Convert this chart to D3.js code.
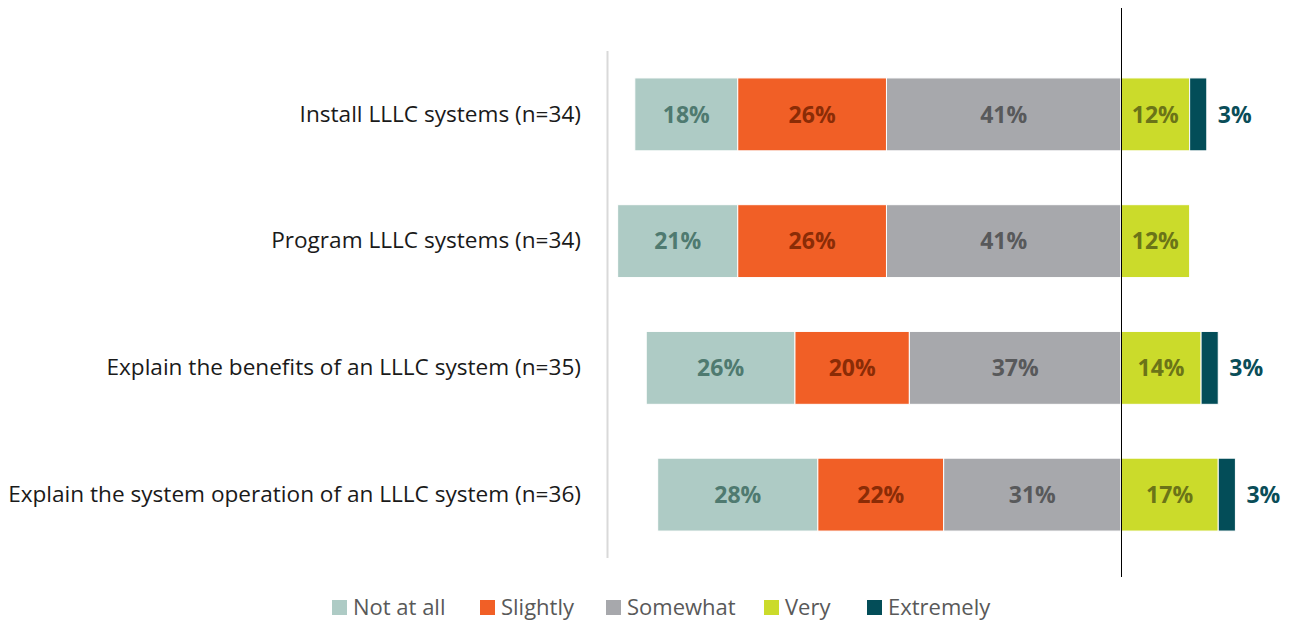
<!DOCTYPE html>
<html>
<head>
<meta charset="utf-8">
<script src="https://cdn.jsdelivr.net/npm/d3@7"></script>
<style>
  html, body { margin: 0; padding: 0; background: #fff; }
  svg { display: block; }
  text { font-family: "Open Sans", "Noto Sans", sans-serif; }
</style>
</head>
<body>
<svg id="chart" width="1296" height="623"></svg>
<script>
// Survey items and response shares (%)
const categories = [
  "Install LLLC systems (n=34)",
  "Program LLLC systems (n=34)",
  "Explain the benefits of an LLLC system (n=35)",
  "Explain the system operation of an LLLC system (n=36)"
];
const responseLevels = ["Not at all", "Slightly", "Somewhat", "Very", "Extremely"];
const notAtAll  = [18, 21, 26, 28];
const slightly  = [26, 26, 20, 22];
const somewhat  = [41, 41, 37, 31];
const very      = [12, 12, 14, 17];
const extremely = [3, 0, 3, 3];

const fillColors  = ["#aecbc5", "#f15f26", "#a7a8ac", "#cbdb2b", "#034d58"];
const labelColors = ["#4f7a70", "#8a2c06", "#58595b", "#6b7418", "#0a4d58"];

const svg = d3.select("#chart");

const zeroX = 1121;
const pxPerPct = 5.72;
const x = d3.scaleLinear().domain([-100, 30]).range([zeroX - 100 * pxPerPct, zeroX + 30 * pxPerPct]);
const y = d3.scaleBand().domain(categories).range([51, 558]).paddingInner(0.425).paddingOuter(0.2125);

// Build stacked segments: negative side (not at all, slightly, somewhat) ends at 0,
// positive side (very, extremely) starts at 0.
const series = [notAtAll, slightly, somewhat, very, extremely];
const segments = [];
categories.forEach((cat, i) => {
  const neg = [series[0][i], series[1][i], series[2][i]];
  let start = -d3.sum(neg);
  neg.forEach((v, k) => {
    segments.push({cat, level: k, x0: start, x1: start + v, value: v});
    start += v;
  });
  let pos = 0;
  [series[3][i], series[4][i]].forEach((v, j) => {
    segments.push({cat, level: 3 + j, x0: pos, x1: pos + v, value: v});
    pos += v;
  });
});

// Left axis rule
svg.append("line")
  .attr("x1", 607.5).attr("x2", 607.5)
  .attr("y1", y.range()[0]).attr("y2", y.range()[1])
  .attr("stroke", "#d9d9d9").attr("stroke-width", 2);

// Bars
svg.append("g").selectAll("rect")
  .data(segments.filter(d => d.value > 0))
  .join("rect")
  .attr("x", d => x(d.x0))
  .attr("width", d => x(d.x1) - x(d.x0))
  .attr("y", d => y(d.cat))
  .attr("height", y.bandwidth())
  .attr("fill", d => fillColors[d.level])
  .attr("stroke", "#fff")
  .attr("stroke-width", 1);

// Value labels
svg.append("g").selectAll("text")
  .data(segments.filter(d => d.value > 0))
  .join("text")
  .attr("x", d => d.level === 4 ? x(d.x1) + 11 : (x(d.x0) + x(d.x1)) / 2)
  .attr("y", d => y(d.cat) + y.bandwidth() / 2)
  .attr("dy", "0.36em")
  .attr("text-anchor", d => d.level === 4 ? "start" : "middle")
  .attr("font-size", 23)
  .attr("font-weight", 700)
  .attr("fill", d => labelColors[d.level])
  .text(d => d.value + "%");

// Category labels
const yAxis = d3.axisLeft(y).tickSize(0).tickPadding(0);
const gy = svg.append("g").attr("transform", "translate(581,0)").call(yAxis);
gy.select(".domain").remove();
gy.selectAll("text")
  .attr("font-family", "'Open Sans', sans-serif")
  .attr("font-size", 22.6)
  .attr("fill", "#1a1a1a");

// Zero line
svg.append("line")
  .attr("x1", x(0) + 0.5).attr("x2", x(0) + 0.5)
  .attr("y1", 8).attr("y2", 577)
  .attr("stroke", "#000").attr("stroke-width", 1);

// Legend
const legendX = [332, 480, 606, 764, 867];
const legend = svg.append("g").selectAll("g")
  .data(responseLevels)
  .join("g")
  .attr("transform", (d, i) => `translate(${legendX[i]},600)`);
legend.append("rect")
  .attr("width", 15).attr("height", 15)
  .attr("fill", (d, i) => fillColors[i]);
legend.append("text")
  .attr("x", 21).attr("y", 7.5).attr("dy", "0.36em")
  .attr("font-size", 22)
  .attr("fill", "#595959")
  .text(d => d);
</script>
</body>
</html>
